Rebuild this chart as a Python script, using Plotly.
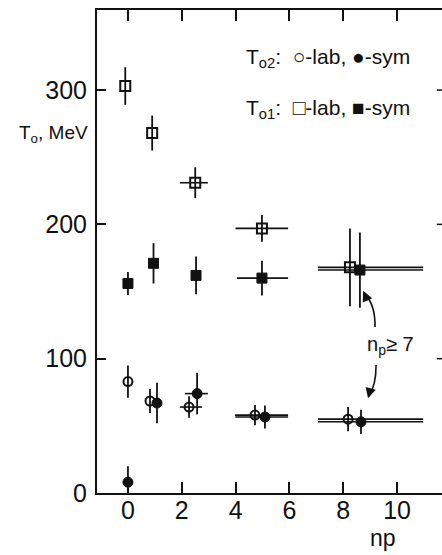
import plotly.graph_objects as go

# ---- data ----
# T01, lab (open squares)
t01_lab_np = [-0.1, 0.9, 2.5, 4.98, 8.25]
t01_lab_T = [303, 268, 231, 197, 168]
t01_lab_err = [14, 13, 11.5, 10, 29]
t01_lab_xm = [0, 0, 0.57, 0.98, 1.19]
t01_lab_xp = [0, 0, 0.47, 0.97, 2.72]

# T01, sym (filled squares)
t01_sym_np = [0.0, 0.95, 2.53, 4.98, 8.62]
t01_sym_T = [156, 171, 162, 160, 166]
t01_sym_err = [8.5, 15, 14, 13, 28]
t01_sym_xm = [0, 0, 0, 0.93, 1.56]
t01_sym_xp = [0, 0, 0, 0.97, 2.35]

# T02, lab (open circles)
t02_lab_np = [0.0, 0.82, 2.27, 4.72, 8.18]
t02_lab_T = [83, 68.5, 64, 58, 55]
t02_lab_err = [12, 9, 8, 7.5, 9]
t02_lab_xm = [0, 0, 0.34, 0.74, 1.12]
t02_lab_xp = [0, 0, 0.48, 1.23, 2.79]

# T02, sym (filled circles)
t02_sym_np = [0.0, 1.08, 2.57, 5.09, 8.66]
t02_sym_T = [8, 67, 74, 56.6, 53]
t02_sym_err = [12, 15, 15.5, 8.5, 9]
t02_sym_xm = [0, 0, 0.45, 1.1, 1.6]
t02_sym_xp = [0, 0, 0.4, 0.86, 2.31]

y_ticks = [0, 100, 200, 300]
right_ticks = [100, 200, 300]
x_ticks = [0, 2, 4, 6, 8, 10]

FONT = "Liberation Sans, Arial, sans-serif"
BLACK = "#111111"


def series(xs, ys, ey, xm, xp, symbol, size, lw):
    return go.Scatter(
        x=xs, y=ys, mode="markers",
        marker=dict(symbol=symbol, size=size, color=BLACK,
                    line=dict(color=BLACK, width=lw)),
        error_y=dict(type="data", array=ey, color=BLACK, thickness=1.8, width=0),
        error_x=dict(type="data", symmetric=False, array=xp, arrayminus=xm,
                     color=BLACK, thickness=1.6, width=0),
        showlegend=False, cliponaxis=True,
    )


fig = go.Figure()
fig.add_trace(series(t01_lab_np, t01_lab_T, t01_lab_err, t01_lab_xm, t01_lab_xp, "square-open", 10, 2))
fig.add_trace(series(t01_sym_np, t01_sym_T, t01_sym_err, t01_sym_xm, t01_sym_xp, "square", 10, 1))
fig.add_trace(series(t02_lab_np, t02_lab_T, t02_lab_err, t02_lab_xm, t02_lab_xp, "circle-open", 9, 2))
fig.add_trace(series(t02_sym_np, t02_sym_T, t02_sym_err, t02_sym_xm, t02_sym_xp, "circle", 10, 1))

# small tick marks on the right edge
for v in right_ticks:
    fig.add_shape(type="line", xref="paper", yref="y", x0=0.985, x1=1.0, y0=v, y1=v,
                  line=dict(color=BLACK, width=1.5))

# curved arrows for "np >= 7"
fig.add_shape(type="path", path="M 9.18 123.6 Q 9.2 140 8.78 149", line=dict(color=BLACK, width=1.6))
fig.add_shape(type="path", path="M 9.22 95.3 Q 9.22 80 8.95 72", line=dict(color=BLACK, width=1.6))
fig.add_annotation(x=8.74, y=150.5, ax=5, ay=11, text="", showarrow=True, arrowhead=2,
                   arrowsize=1.3, arrowwidth=1.6, arrowcolor=BLACK)
fig.add_annotation(x=8.92, y=70.5, ax=3, ay=-11, text="", showarrow=True, arrowhead=2,
                   arrowsize=1.3, arrowwidth=1.6, arrowcolor=BLACK)

fig.add_annotation(x=9.75, y=110, text="n<sub>p</sub>≥ 7", showarrow=False,
                   font=dict(family=FONT, size=20, color=BLACK))

# legend text
fig.add_annotation(xref="paper", yref="paper", x=0.425, y=0.90, xanchor="left", yanchor="middle",
                   text="T<sub>o2</sub>:  ○-lab, ●-sym", showarrow=False,
                   font=dict(family=FONT, size=21, color=BLACK))
fig.add_annotation(xref="paper", yref="paper", x=0.425, y=0.795, xanchor="left", yanchor="middle",
                   text="T<sub>o1</sub>:  □-lab, ■-sym", showarrow=False,
                   font=dict(family=FONT, size=21, color=BLACK))

# axis titles
fig.add_annotation(xref="paper", yref="paper", x=-0.02, y=0.743, xanchor="right", yanchor="middle",
                   text="T<sub>o</sub>, MeV", showarrow=False,
                   font=dict(family=FONT, size=19, color=BLACK))
fig.add_annotation(xref="paper", yref="paper", x=0.829, y=-0.093, xanchor="center",
                   yanchor="middle", text="np", showarrow=False,
                   font=dict(family=FONT, size=23, color=BLACK))

fig.update_layout(
    width=442, height=555,
    margin=dict(l=97, r=0, t=10, b=62),
    plot_bgcolor="white", paper_bgcolor="white",
    font=dict(family=FONT, color=BLACK),
    xaxis=dict(range=[-1.15, 11.67], tickvals=x_ticks, ticks="inside", ticklen=11,
               tickwidth=1.6, tickcolor=BLACK, showline=True, linecolor=BLACK, linewidth=2,
               mirror="ticks", showgrid=False, zeroline=False,
               tickfont=dict(family=FONT, size=25, color=BLACK), ticklabelstandoff=-6),
    yaxis=dict(range=[0, 359.6], tickvals=y_ticks, ticks="inside", ticklen=9,
               tickwidth=1.6, tickcolor=BLACK, showline=True, linecolor=BLACK, linewidth=2,
               showgrid=False, zeroline=False,
               tickfont=dict(family=FONT, size=25, color=BLACK), ticklabelstandoff=3),
)

fig.write_html("out.html")
